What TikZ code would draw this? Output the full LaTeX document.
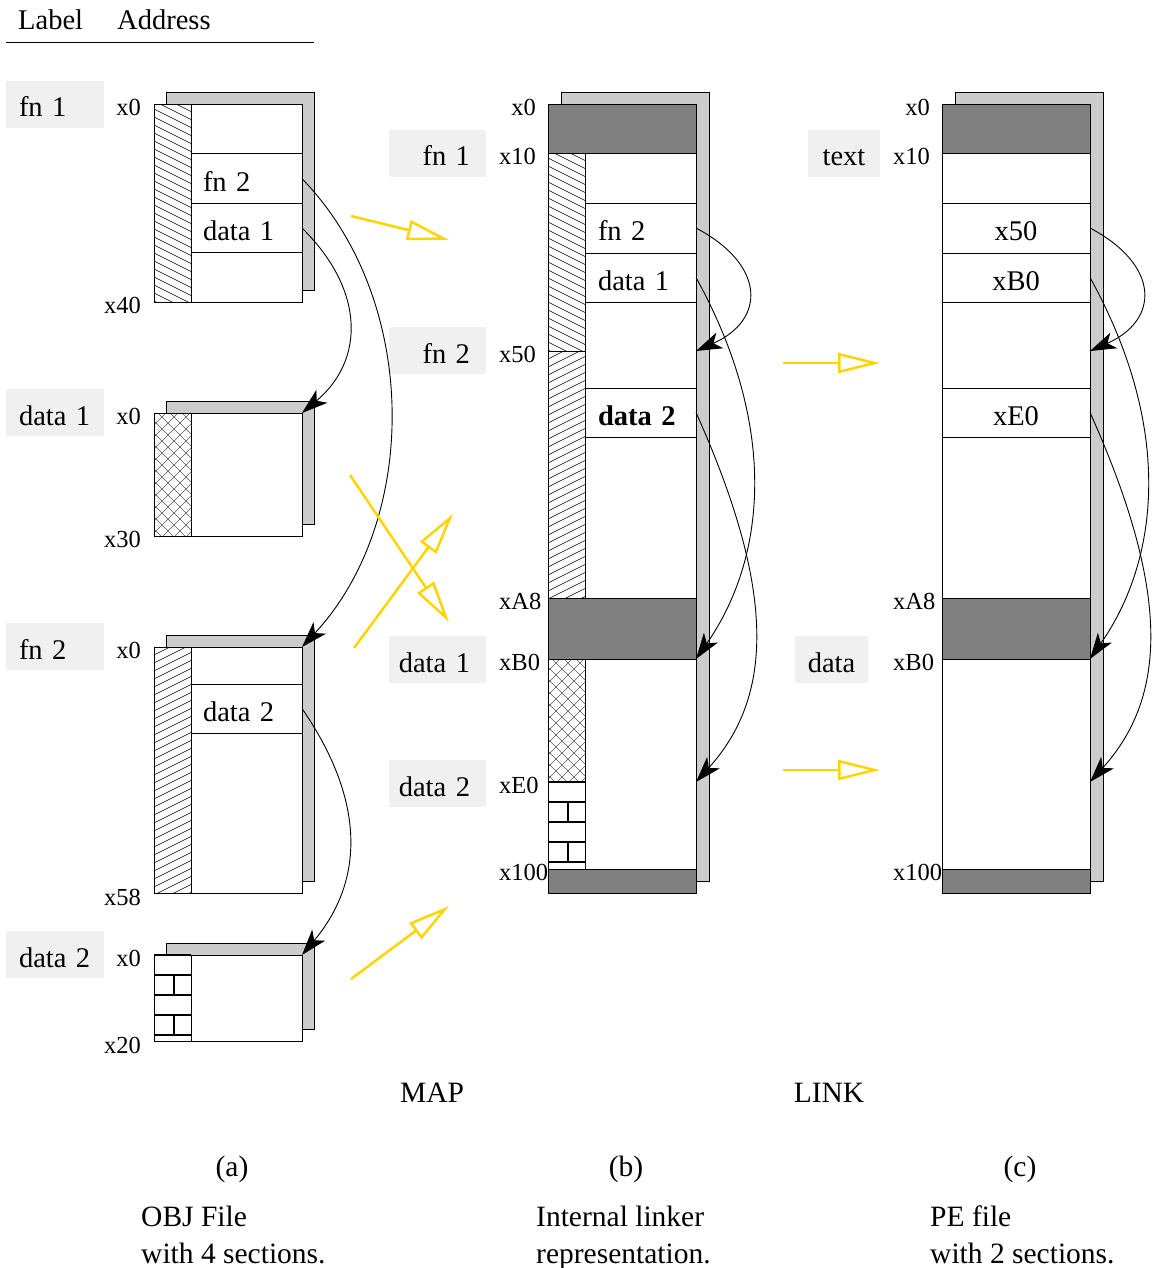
\documentclass[tikz,border=0pt]{standalone}
\usepackage{fontspec}
\setmainfont{Liberation Serif}
\usetikzlibrary{arrows.meta}
\definecolor{shade}{gray}{0.8}
\definecolor{dark}{gray}{0.5}
\definecolor{lblgray}{gray}{0.94}
\definecolor{gold}{RGB}{255,212,0}

\newcommand\HatchDn[4]{\begin{scope}\clip (#1,#2) rectangle (#3,#4);
 \foreach \hk in {0,...,45}{\draw[hatchline] (#1,{#2-20+8*\hk}) -- (#3,{#2-20+8*\hk+0.5*(#3-#1)});}\end{scope}}
\newcommand\HatchUp[4]{\begin{scope}\clip (#1,#2) rectangle (#3,#4);
 \foreach \hk in {0,...,45}{\draw[hatchline] (#1,{#2+8*\hk}) -- (#3,{#2+8*\hk-0.5*(#3-#1)});}\end{scope}}
\newcommand\CrossH[4]{\begin{scope}\clip (#1,#2) rectangle (#3,#4);
 \foreach \hk in {0,...,25}{\draw[xline] (#1,{#2-40+12*\hk}) -- ++(40,40); \draw[xline] (#1,{#2+12*\hk}) -- ++(40,-40);}\end{scope}}
\newcommand\Bricks[4]{\begin{scope}\clip (#1,{#2-1.2}) rectangle (#3,#4);
 \foreach \hk in {0,...,5}{\draw[brick] (#1,{#2+20*\hk}) -- (#3,{#2+20*\hk});}
 \foreach \hk in {1,3,5}{\draw[brick] ({#1+20},{#2+20*\hk}) -- ({#1+20},{#2+20*\hk+20});}\end{scope}}
\newcommand\RightIn[1]{\makebox[68pt][r]{#1}}

\tikzset{
 mainf/.style={font=\fontsize{28.5}{34}\selectfont},
 capf/.style={font=\fontsize{29.5}{35}\selectfont},
 addrf/.style={font=\fontsize{24.5}{29}\selectfont},
 hatchline/.style={line width=0.6pt},
 xline/.style={line width=0.6pt, draw=black!65},
 brick/.style={line width=2.2pt},
 box/.style={draw, fill=white, line width=1pt, anchor=north west, inner sep=0pt, outer sep=0pt, minimum width=148pt},
 shadowbox/.style={box, fill=shade},
 darkblk/.style={box, fill=dark},
 rowl/.style={draw, line width=1pt, anchor=north west, outer sep=0pt, inner ysep=0pt, inner xsep=12pt, text width=87pt, align=left, text height=25pt, text depth=0pt, mainf},
 rowm/.style={rowl, inner xsep=13pt, text width=85pt},
 rowc/.style={draw, line width=1pt, anchor=north west, outer sep=0pt, inner sep=0pt, minimum width=148pt, text height=25pt, text depth=0pt, mainf},
 lblL/.style={fill=lblgray, anchor=north west, outer sep=0pt, inner ysep=0pt, inner xsep=13pt, text width=72pt, align=left, minimum height=47pt, text height=25pt, text depth=0pt, mainf},
 lblM/.style={lblL, text width=71pt},
 lblR/.style={fill=lblgray, anchor=north west, outer sep=0pt, inner sep=0pt, minimum height=47pt, text height=25pt, text depth=0pt, mainf},
 addr/.style={inner sep=0pt, addrf},
 txt/.style={inner sep=0pt, mainf},
 captxt/.style={inner sep=0pt, capf},
 conn/.style={draw, line width=0.9pt, -{Stealth[length=26pt,width=17pt,inset=7pt]}},
 ylw/.style={draw=gold, line width=2.5pt, -{Triangle[open, length=42pt, width=20pt]}},
}

\begin{document}
\begin{tikzpicture}[x=1pt,y=-1pt]
\useasboundingbox (0,0) rectangle (1151,1268);

% header
\node[txt, anchor=base west] (hlabel) at (18,30) {Label};
\node[txt, anchor=base west] (haddr) at (117,30) {Address};
\draw[line width=1pt] (6,43) -- (314,43);

% ================= column (a) =================
\node[lblL, minimum width=98pt] (la1) at (6,81) {fn 1};
\node[lblL] (la2) at (6,389) {data 1};
\node[lblL] (la3) at (6,623) {fn 2};
\node[lblL] (la4) at (6,931) {data 2};

% box a1 (fn 1)
\node[shadowbox, minimum height=197pt] (a1s) at (166,93) {};
\node[box, minimum height=197pt] (a1) at (154,105) {};
\HatchDn{154}{105}{191}{302}
\draw[line width=1pt] (191,105) -- (191,302);
\node[rowl, minimum height=49.3pt] (a1fn2) at (191,154) {fn 2};
\node[rowl, minimum height=49.5pt] (a1d1) at (191,203.3) {data 1};
\draw[line width=1pt] (a1.north west) rectangle (a1.south east);
\node[addr, anchor=base east] (a1x0) at (141,116) {x0};
\node[addr, anchor=base east] (a1x40) at (141,313) {x40};

% box a2 (data 1)
\node[shadowbox, minimum height=123pt] (a2s) at (166,401) {};
\node[box, minimum height=123pt] (a2) at (154,413) {};
\CrossH{154}{413}{191}{536}
\draw[line width=1pt] (191,413) -- (191,536);
\draw[line width=1pt] (a2.north west) rectangle (a2.south east);
\node[addr, anchor=base east] (a2x0) at (141,424) {x0};
\node[addr, anchor=base east] (a2x30) at (141,547) {x30};

% box a3 (fn 2)
\node[shadowbox, minimum height=246pt] (a3s) at (166,635) {};
\node[box, minimum height=246pt] (a3) at (154,647) {};
\HatchUp{154}{647}{191}{893}
\draw[line width=1pt] (191,647) -- (191,893);
\node[rowl, minimum height=49pt] (a3d2) at (191,684) {data 2};
\draw[line width=1pt] (a3.north west) rectangle (a3.south east);
\node[addr, anchor=base east] (a3x0) at (141,658) {x0};
\node[addr, anchor=base east] (a3x58) at (141,905) {x58};

% box a4 (data 2)
\node[shadowbox, minimum height=86pt] (a4s) at (166,943) {};
\node[box, minimum height=86pt] (a4) at (154,955) {};
\Bricks{154}{955}{191}{1041}
\draw[line width=1pt] (191,955) -- (191,1041);
\draw[line width=1pt] (a4.north west) rectangle (a4.south east);
\node[addr, anchor=base east] (a4x0) at (141,966) {x0};
\node[addr, anchor=base east] (a4x20) at (141,1053) {x20};

% ================= column (b) =================
\node[lblM] (lb1) at (389,130) {\RightIn{fn 1}};
\node[lblM] (lb2) at (389,327) {\RightIn{fn 2}};
\node[lblM] (lb3) at (389,636) {\RightIn{data 1}};
\node[lblM] (lb4) at (389,760) {\RightIn{data 2}};

\node[shadowbox, minimum height=788pt] (bs) at (561,93) {};
\node[box, minimum height=788pt] (b) at (548,105) {};
\HatchDn{548}{154}{585}{351}
\HatchUp{548}{351}{585}{598}
\CrossH{548}{659}{585}{782}
\Bricks{548}{782}{585}{869}
\draw[line width=1pt] (548,351) -- (585,351);
\draw[line width=1pt] (585,154) -- (585,869);
\node[darkblk, minimum height=49pt] (bd1) at (548,105) {};
\node[darkblk, minimum height=61pt] (bd2) at (548,598) {};
\node[darkblk, minimum height=24pt] (bd3) at (548,869) {};
\node[rowm, minimum height=50pt] (bfn2) at (585,203) {fn 2};
\node[rowm, minimum height=49pt] (bd1r) at (585,253) {data 1};
\node[rowm, minimum height=49pt] (bd2r) at (585,388) {\bfseries data 2};
\draw[line width=1pt] (b.north west) rectangle (b.south east);
\node[addr, anchor=base east] (bx0) at (536,116) {x0};
\node[addr, anchor=base west] (bx10) at (499,165) {x10};
\node[addr, anchor=base west] (bx50) at (499,362) {x50};
\node[addr, anchor=base west] (bxA8) at (499,609) {xA8};
\node[addr, anchor=base west] (bxB0) at (499,670) {xB0};
\node[addr, anchor=base west] (bxE0) at (499,793) {xE0};
\node[addr, anchor=base west] (bx100) at (499,880) {x100};

% ================= column (c) =================
\node[lblR, minimum width=72pt] (lc1) at (808,130) {text};
\node[lblR, minimum width=73pt] (lc2) at (795,636) {data};

\node[shadowbox, minimum height=788pt] (cs) at (955,93) {};
\node[box, minimum height=788pt] (c) at (942,105) {};
\node[darkblk, minimum height=49pt] (cd1) at (942,105) {};
\node[darkblk, minimum height=61pt] (cd2) at (942,598) {};
\node[darkblk, minimum height=24pt] (cd3) at (942,869) {};
\node[rowc, minimum height=50pt] (cx50) at (942,203) {x50};
\node[rowc, minimum height=49pt] (cxB0) at (942,253) {xB0};
\node[rowc, minimum height=49pt] (cxE0) at (942,388) {xE0};
\draw[line width=1pt] (c.north west) rectangle (c.south east);
\node[addr, anchor=base east] (cx0l) at (930,116) {x0};
\node[addr, anchor=base west] (cx10l) at (893,165) {x10};
\node[addr, anchor=base west] (cxA8l) at (893,609) {xA8};
\node[addr, anchor=base west] (cxB0l) at (893,670) {xB0};
\node[addr, anchor=base west] (cx100l) at (893,880) {x100};

% ================= black connectors =================
\draw[conn] (a1fn2.east) .. controls +(118,121.5) and +(118,-127) .. (a3.north east);
\draw[conn] (a1d1.east) .. controls +(63,62) and +(63,-53) .. (a2.north east);
\draw[conn] (a3d2.east) .. controls +(63,91.5) and +(63,-75) .. (a4.north east);

\coordinate (b50) at (696,351);
\coordinate (bB0) at (696,659);
\coordinate (bE0) at (696,782);
\draw[conn] (bfn2.east) .. controls +(70,37) and +(70,-31) .. (b50);
\draw[conn] (bd1r.east) .. controls +(84,152) and +(69,-99) .. (bB0);
\draw[conn] (bd2r.east) .. controls +(84,187) and +(74,-82) .. (bE0);

\coordinate (c50) at (1090,351);
\coordinate (cB0) at (1090,659);
\coordinate (cE0) at (1090,782);
\draw[conn] (cx50.east) .. controls +(70,37) and +(70,-31) .. (c50);
\draw[conn] (cxB0.east) .. controls +(84,152) and +(69,-99) .. (cB0);
\draw[conn] (cxE0.east) .. controls +(84,187) and +(74,-82) .. (cE0);

% ================= yellow arrows =================
\coordinate (y1s) at (351,216); \coordinate (y1e) at (449,240);
\coordinate (y2s) at (350,475); \coordinate (y2e) at (449,622);
\coordinate (y3s) at (354,648); \coordinate (y3e) at (453,514);
\coordinate (y4s) at (351,979); \coordinate (y4e) at (449,906);
\coordinate (y5s) at (783,363); \coordinate (y5e) at (880,363);
\coordinate (y6s) at (783,770); \coordinate (y6e) at (880,770);
\draw[ylw] (y1s) -- (y1e);
\draw[ylw] (y2s) -- (y2e);
\draw[ylw] (y3s) -- (y3e);
\draw[ylw] (y4s) -- (y4e);
\draw[ylw] (y5s) -- (y5e);
\draw[ylw] (y6s) -- (y6e);

% ================= captions =================
\node[captxt, anchor=base] (map) at (432,1102) {MAP};
\node[captxt, anchor=base] (link) at (829,1102) {LINK};
\node[captxt, anchor=base] (capa) at (232,1176) {(a)};
\node[captxt, anchor=base] (capb) at (626,1176) {(b)};
\node[captxt, anchor=base] (capc) at (1020,1176) {(c)};
\node[captxt, anchor=base west] (da1) at (141,1226) {OBJ File};
\node[captxt, anchor=base west] (da2) at (141,1263) {with 4 sections.};
\node[captxt, anchor=base west] (db1) at (536,1226) {Internal linker};
\node[captxt, anchor=base west] (db2) at (536,1263) {representation.};
\node[captxt, anchor=base west] (dc1) at (930,1226) {PE file};
\node[captxt, anchor=base west] (dc2) at (930,1263) {with 2 sections.};
\end{tikzpicture}
\end{document}
